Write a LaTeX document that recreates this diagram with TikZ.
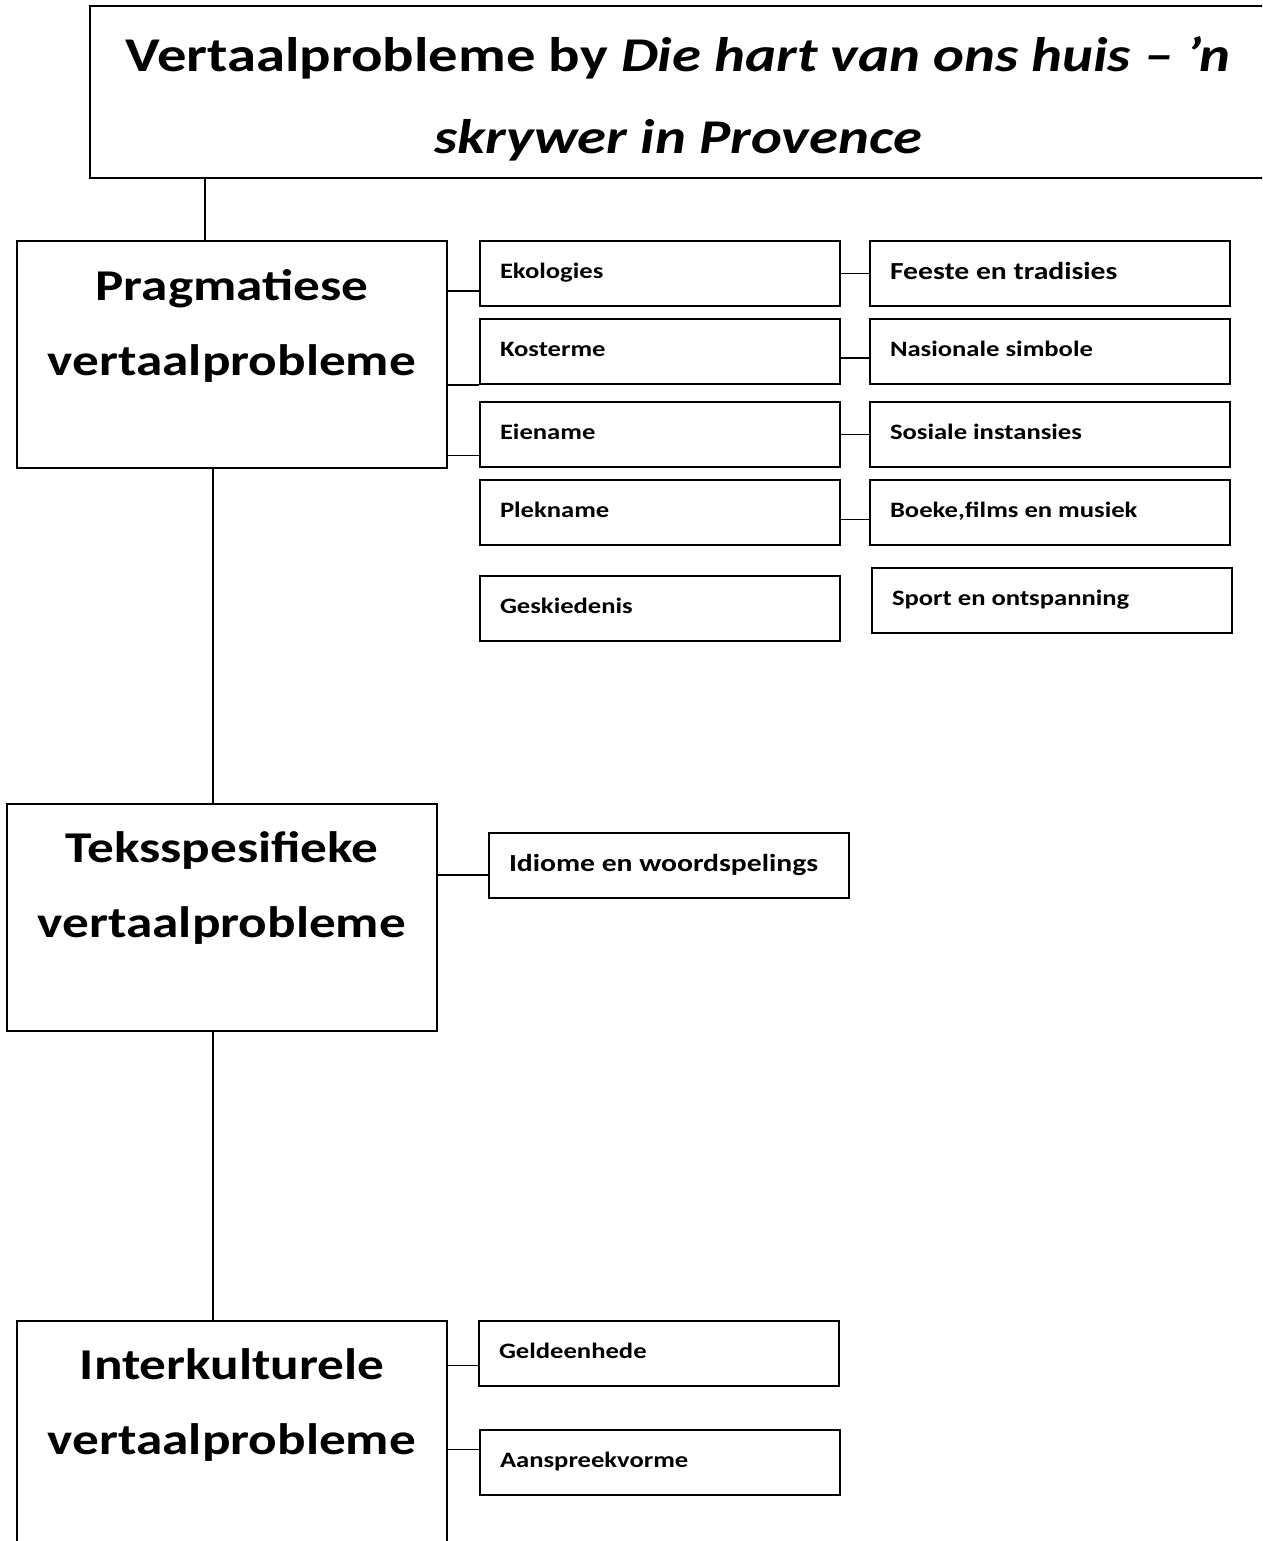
\documentclass[tikz,border=0pt]{standalone}
\usepackage{fontspec}
\setmainfont{Carlito}[FakeStretch=1.21]
\usetikzlibrary{positioning,calc}
\tikzset{
  frame/.style={draw,line width=2pt,inner sep=0pt},
  bigbox/.style={frame,minimum width=430pt,minimum height=227pt,anchor=north west},
  bigtext/.style={text width=430pt,align=flush center,inner sep=0pt,anchor=base,
              font=\fontsize{44}{75}\selectfont\bfseries},
  smallbox/.style={frame,minimum width=360pt,minimum height=65pt,anchor=north west,
              text width=320pt,align=flush left,inner xsep=20pt,text height=14pt,text depth=4pt,
              font=\fontsize{22}{26}\selectfont\bfseries},
  larger/.style={font=\fontsize{24.5}{28}\selectfont\bfseries,text height=16pt,text depth=5pt},
  link/.style={line width=1.6pt},
}
\begin{document}
\begin{tikzpicture}[x=1pt,y=-1pt]
  \useasboundingbox (0,0) rectangle (1262,1541);
  \clip (0,0) rectangle (1262,1541);
  % title
  \node[frame,minimum width=1176pt,minimum height=172pt,anchor=north west] (title) at (89,5) {};
  \node[text width=1176pt,align=flush center,inner sep=0pt,anchor=base,
        font=\fontsize{48.5}{82}\selectfont\bfseries] (titleT) at ([yshift=-67pt]title.north)
        {Vertaalprobleme by \textit{Die hart van ons huis – ’n}\\\textit{skrywer in Provence}};
  % main groups
  \node[bigbox] (prag) at (16,240) {};
  \node[bigtext] (pragT) at ([yshift=-60pt]prag.north) {Pragmatiese\\vertaalprobleme};
  \node[bigbox] (teks) at (6,803) {};
  \node[bigtext] (teksT) at ([yshift=-59pt]teks.north) {Teksspesifieke\\vertaalprobleme};
  \node[bigbox,minimum height=260pt] (inter) at (16,1320) {};
  \node[bigtext] (interT) at ([yshift=-59pt]inter.north) {Interkulturele\\vertaalprobleme};
  % pragmatic items
  \node[smallbox] (eko) at (479,240) {Ekologies};
  \node[smallbox] (kos) at (479,318) {Kosterme};
  \node[smallbox] (eie) at (479,401) {Eiename};
  \node[smallbox] (plek) at (479,479) {Plekname};
  \node[smallbox] (gesk) at (479,575) {Geskiedenis};
  \node[smallbox,larger,right=28pt of eko] (fees) {Feeste en tradisies};
  \node[smallbox,right=28pt of kos] (nas) {Nasionale simbole};
  \node[smallbox,right=28pt of eie] (sos) {Sosiale instansies};
  \node[smallbox,right=28pt of plek] (boek) {Boeke,films en musiek};
  \node[smallbox] (sport) at (871,567) {Sport en ontspanning};
  % text-specific and intercultural items
  \node[smallbox,larger] (idi) at (488,832) {Idiome en woordspelings};
  \node[smallbox] (geld) at (478,1320) {Geldeenhede};
  \node[smallbox] (aans) at (479,1429) {Aanspreekvorme};
  % spine
  \draw[link] ([xshift=-27pt]prag.north) coordinate (s0) -- (s0 |- title.south);
  \draw[link] ([xshift=-19pt]prag.south) coordinate (s1) -- (s1 |- teks.north);
  \draw[link] (s1 |- teks.south) -- (s1 |- inter.north);
  % branches
  \draw[link] ([yshift=-17.5pt]eko.west) -- ([yshift=-17.5pt]eko.west -| prag.east);
  \draw[link] ([yshift=-33.5pt]kos.west) -- ([yshift=-33.5pt]kos.west -| prag.east);
  \draw[link] ([yshift=-21pt]eie.west) -- ([yshift=-21pt]eie.west -| prag.east);
  \draw[link] (eko.east) -- (fees.west);
  \draw[link] ([yshift=-6.5pt]kos.east) -- ([yshift=-6.5pt]nas.west);
  \draw[link] (eie.east) -- (sos.west);
  \draw[link] ([yshift=-7pt]plek.east) -- ([yshift=-7pt]boek.west);
  \draw[link] ([yshift=-9.5pt]idi.west) -- ([yshift=-9.5pt]idi.west -| teks.east);
  \draw[link] ([yshift=-12pt]geld.west) -- ([yshift=-12pt]geld.west -| inter.east);
  \draw[link] ([yshift=13pt]aans.west) -- ([yshift=13pt]aans.west -| inter.east);
\end{tikzpicture}
\end{document}
